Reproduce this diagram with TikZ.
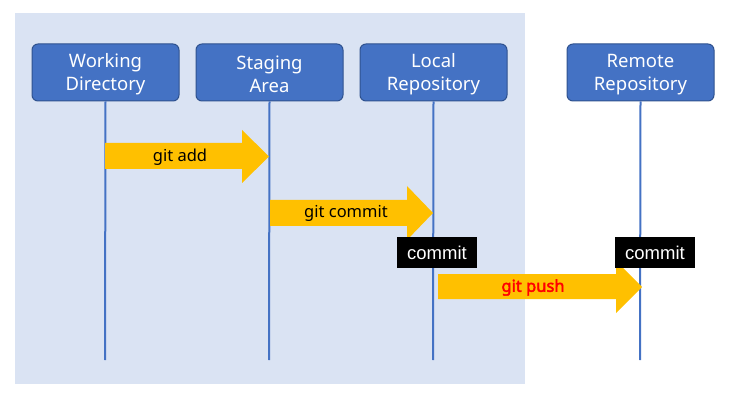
\documentclass[tikz,border=0pt]{standalone}
\usepackage{fontspec}
\setmainfont{Noto Sans}
\newfontfamily\arialfont{Liberation Sans}
\newfontfamily\pushfont{Noto Sans}[FakeBold=2.5]
\usetikzlibrary{positioning}
\definecolor{bgblue}{HTML}{DAE3F3}
\definecolor{boxblue}{HTML}{4472C4}
\definecolor{boxedge}{HTML}{2F528F}
\definecolor{arrowyel}{HTML}{FFC000}
\definecolor{pushred}{HTML}{FF0000}
\tikzset{
  actor/.style={draw=boxedge, line width=1pt, fill=boxblue, rounded corners=6pt,
    minimum width=147pt, minimum height=57pt, inner sep=0pt},
  actortext/.style={align=center, inner sep=0pt, yshift=-2pt,
    text=white, font=\fontsize{18.5}{23}\selectfont},
  lifeline/.style={draw=boxblue, line width=2pt},
  blockarrow/.style={fill=arrowyel, draw=none},
  arrowlabel/.style={font=\fontsize{16.5}{19}\selectfont, inner sep=0pt},
  commitbox/.style={fill=black, text=white, minimum width=80pt, minimum height=31pt,
    inner sep=0pt, font=\arialfont\fontsize{18.5}{20}\selectfont}
}
\begin{document}
\begin{tikzpicture}[x=1pt,y=-1pt]
\useasboundingbox (0,0) rectangle (739,414);
\fill[bgblue] (15,13) rectangle (525,384);
% actors
\node[actor] (wd) at (105.5,72.5) {};
\node[actor] (sa) at (269.5,72.5) {};
\node[actor] (lr) at (433.5,72.5) {};
\node[actor] (rr) at (640.5,72.5) {};
\node[actortext] (wdT) at (wd.center) {Working\\Directory};
\node[actortext] (saT) at (sa.center) {Staging\\Area};
\node[actortext] (lrT) at (lr.center) {Local\\Repository};
\node[actortext] (rrT) at (rr.center) {Remote\\Repository};
% lifeline ends
\coordinate (wdE) at (105,360);
\coordinate (saE) at (269,360);
\coordinate (lrE) at (433,360);
\coordinate (rrE) at (640,360);
\draw[lifeline] (wd.south) -- (wdE);
\draw[lifeline] (sa.south) -- (saE);
\draw[lifeline] (lr.south) -- (lrE);
\draw[lifeline] (rr.south) -- (rrE);
% git add arrow
\fill[blockarrow] (105,143) -- (242,143) -- (242,130) -- (269,156.5) -- (242,183) -- (242,169) -- (105,169) -- cycle;
\node[arrowlabel] (ga) at (180,157) {git add};
% git commit arrow
\fill[blockarrow] (270,200) -- (407,200) -- (407,186) -- (433,213) -- (407,240) -- (407,226) -- (270,226) -- cycle;
\node[arrowlabel] (gc) at (346,213) {git commit};
% git push arrow
\fill[blockarrow] (438,274) -- (616,274) -- (616,261) -- (642,287) -- (616,313) -- (616,299) -- (438,299) -- cycle;
\node[arrowlabel, text=pushred, font=\pushfont\fontsize{16.5}{19}\selectfont] (gp) at (533,287.5) {git push};
% commit boxes
\node[commitbox] (c1) at (437,252.5) {commit};
\node[commitbox] (c2) at (655,252.5) {commit};
\end{tikzpicture}
\end{document}
